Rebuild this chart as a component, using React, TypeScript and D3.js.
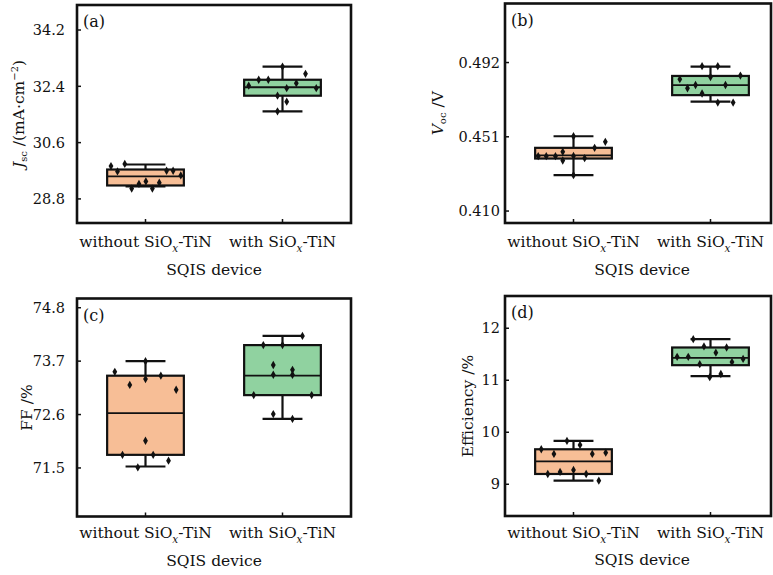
import React, { useEffect, useRef } from 'react';
import * as d3 from 'd3';

// categories on the x axis
const categories = ['without', 'with'];

// (a) Jsc, mA/cm2
const jscTicks = [28.8, 30.6, 32.4, 34.2];
const jscWithout = [29.85, 29.68, 29.92, 29.70, 29.70, 29.55, 29.13, 29.28, 29.36, 29.13, 29.32];
const jscWith = [32.42, 32.61, 32.61, 33.03, 32.80, 32.50, 32.34, 32.10, 31.91, 31.60, 32.34];
// [lower whisker, q1, median, q3, upper whisker]
const jscBoxes = [[29.20, 29.23, 29.52, 29.74, 29.90], [31.60, 32.10, 32.37, 32.61, 33.03]];
const jscJitter = [
  [-0.90, -0.73, -0.54, 0.55, 0.72, 0.92, -0.36, -0.17, 0.01, 0.18, 0.36],
  [-0.88, -0.62, -0.37, 0, 0.60, 0.36, 0.11, -0.13, 0.11, -0.13, 0.88],
];

// (b) Voc, V
const vocTicks = [0.410, 0.451, 0.492];
const vocWithout = [0.4403, 0.4403, 0.4403, 0.4427, 0.4379, 0.4404, 0.4513, 0.4298, 0.4392, 0.4449, 0.4482];
const vocWith = [0.4900, 0.4900, 0.4828, 0.4778, 0.4796, 0.4840, 0.4796, 0.4848, 0.4749, 0.4699, 0.4699];
const vocBoxes = [[0.4298, 0.4390, 0.4407, 0.4449, 0.4513], [0.4704, 0.4740, 0.4795, 0.4846, 0.4897]];
const vocJitter = [
  [-0.92, -0.71, -0.47, -0.28, -0.28, 0, 0, 0, 0.29, 0.55, 0.83],
  [-0.22, 0.19, -0.80, -0.60, -0.39, 0, 0.39, 0.78, -0.22, 0.19, 0.59],
];

// (c) FF, %
const ffTicks = [71.5, 72.6, 73.7, 74.8];
const ffWithout = [73.48, 73.21, 73.33, 73.40, 73.11, 72.06, 71.77, 71.77, 71.65, 71.51, 73.70];
const ffWith = [74.03, 74.03, 74.22, 73.62, 73.52, 73.42, 73.42, 73.00, 73.00, 72.61, 72.51];
const ffBoxes = [[71.53, 71.77, 72.63, 73.40, 73.70], [72.51, 73.00, 73.40, 74.03, 74.22]];
const ffJitter = [
  [-0.80, -0.41, 0, 0.40, 0.80, 0, -0.60, 0.20, 0.60, -0.20, 0],
  [-0.50, 0, 0.52, -0.24, 0.26, -0.24, 0.26, -0.75, 0.76, -0.24, 0.26],
];

// (d) efficiency, %
const effTicks = [9, 10, 11, 12];
const effWithout = [9.673, 9.583, 9.833, 9.756, 9.583, 9.608, 9.198, 9.237, 9.275, 9.198, 9.069];
const effWith = [11.79, 11.65, 11.63, 11.53, 11.45, 11.45, 11.31, 11.35, 11.41, 11.06, 11.12];
const effBoxes = [[9.069, 9.198, 9.442, 9.673, 9.833], [11.08, 11.29, 11.43, 11.63, 11.79]];
const effJitter = [
  [-0.84, -0.51, -0.17, 0.17, 0.49, 0.84, -0.67, -0.35, 0, 0.33, 0.66],
  [-0.45, -0.17, 0.42, 0.14, -0.87, -0.58, -0.28, 0.56, 0.85, -0.02, 0.27],
];

const FONT = '"DejaVu Serif", serif';
const fills = ['#F7BE96', '#90D2A0'];
const ink = '#111';

interface PanelSpec {
  tag: string;
  x0: number; x1: number; y0: number; y1: number;
  domain: [number, number];
  ticks: number[];
  fmt: string;
  tickGap: number;
  labelOff: number;
  titleOff: number;
  points: number[][];
  boxes: number[][];
  jitter: number[][];
  yLabel: (t: d3.Selection<SVGTextElement, unknown, null, undefined>) => void;
  yLabelX: number;
}

const App: React.FC = () => {
  const svgRef = useRef<SVGSVGElement>(null);

  useEffect(() => {
    if (!svgRef.current) return;
    const svg = d3.select(svgRef.current);
    svg.selectAll('*').remove();

    const panels: PanelSpec[] = [
      {
        tag: '(a)', x0: 77, x1: 351, y0: 5, y1: 223, domain: [28.03, 35.0], ticks: jscTicks, fmt: '.1f', tickGap: 12,
        labelOff: 24, titleOff: 52,
        points: [jscWithout, jscWith], boxes: jscBoxes, jitter: jscJitter, yLabelX: 24,
        yLabel: t => {
          t.append('tspan').attr('font-style', 'italic').text('J');
          t.append('tspan').attr('font-size', 10).attr('dy', 3).text('sc');
          t.append('tspan').attr('dy', -3).text(' /(mA·cm');
          t.append('tspan').attr('font-size', 10).attr('dy', -6).text('−2');
          t.append('tspan').attr('dy', 6).text(')');
        },
      },
      {
        tag: '(b)', x0: 505, x1: 771, y0: 3.5, y1: 223, domain: [0.4034, 0.5246], ticks: vocTicks, fmt: '.3f', tickGap: 5,
        labelOff: 24, titleOff: 52,
        points: [vocWithout, vocWith], boxes: vocBoxes, jitter: vocJitter, yLabelX: 443,
        yLabel: t => {
          t.append('tspan').attr('font-style', 'italic').text('V');
          t.append('tspan').attr('font-size', 10).attr('dy', 3).text('oc');
          t.append('tspan').attr('dy', -3).text(' /V');
        },
      },
      {
        tag: '(c)', x0: 77, x1: 351, y0: 298.5, y1: 516.5, domain: [70.5, 74.99], ticks: ffTicks, fmt: '.1f', tickGap: 12,
        labelOff: 21.5, titleOff: 49,
        points: [ffWithout, ffWith], boxes: ffBoxes, jitter: ffJitter, yLabelX: 32,
        yLabel: t => { t.text('FF /%'); },
      },
      {
        tag: '(d)', x0: 505, x1: 771, y0: 296, y1: 516, domain: [8.39, 12.62], ticks: effTicks, fmt: 'd', tickGap: 5,
        labelOff: 21.5, titleOff: 49,
        points: [effWithout, effWith], boxes: effBoxes, jitter: effJitter, yLabelX: 473,
        yLabel: t => { t.text('Efficiency /%'); },
      },
    ];

    panels.forEach(p => {
      const g = svg.append('g');
      // nominal plot width 274, frame on the right may be clipped by the page
      const x = d3.scalePoint<string>().domain(categories).range([p.x0, p.x0 + 274]).padding(0.5);
      const y = d3.scaleLinear().domain(p.domain).range([p.y1, p.y0]);
      const boxW = x.step() * 0.56;
      const capW = boxW * 0.52;

      // boxes
      p.boxes.forEach((b, i) => {
        const cx = x(categories[i]) as number;
        const [lo, q1, med, q3, hi] = b;
        g.append('line').attr('x1', cx).attr('x2', cx).attr('y1', y(hi)).attr('y2', y(q3))
          .attr('stroke', ink).attr('stroke-width', 2.2);
        g.append('line').attr('x1', cx).attr('x2', cx).attr('y1', y(q1)).attr('y2', y(lo))
          .attr('stroke', ink).attr('stroke-width', 2.2);
        [lo, hi].forEach(v => {
          g.append('line').attr('x1', cx - capW / 2).attr('x2', cx + capW / 2).attr('y1', y(v)).attr('y2', y(v))
            .attr('stroke', ink).attr('stroke-width', 2.2);
        });
        g.append('rect').attr('x', cx - boxW / 2).attr('y', y(q3)).attr('width', boxW).attr('height', y(q1) - y(q3))
          .attr('fill', fills[i]).attr('stroke', ink).attr('stroke-width', 2.2);
        g.append('line').attr('x1', cx - boxW / 2).attr('x2', cx + boxW / 2).attr('y1', y(med)).attr('y2', y(med))
          .attr('stroke', ink).attr('stroke-width', 1.8);
      });

      // data points
      const diamond = d3.symbol().type(d3.symbolDiamond).size(20);
      p.points.forEach((vals, i) => {
        const cx = x(categories[i]) as number;
        vals.forEach((v, k) => {
          g.append('path').attr('d', diamond() as string)
            .attr('transform', `translate(${cx + p.jitter[i][k] * boxW / 2},${y(v)})`)
            .attr('fill', ink);
        });
      });

      // frame
      g.append('rect').attr('x', p.x0).attr('y', p.y0).attr('width', p.x1 - p.x0).attr('height', p.y1 - p.y0)
        .attr('fill', 'none').attr('stroke', ink).attr('stroke-width', 2.6);

      // y ticks
      p.ticks.forEach(t => {
        g.append('line').attr('x1', p.x0).attr('x2', p.x0 + 4).attr('y1', y(t)).attr('y2', y(t))
          .attr('stroke', ink).attr('stroke-width', 1.5);
        g.append('text').attr('x', p.x0 - p.tickGap).attr('y', y(t)).attr('dy', '0.36em')
          .attr('text-anchor', 'end').attr('font-family', FONT).attr('font-size', 14.5).attr('fill', ink)
          .text(d3.format(p.fmt)(t));
      });

      // x ticks and category labels
      categories.forEach(c => {
        const cx = x(c) as number;
        g.append('line').attr('x1', cx).attr('x2', cx).attr('y1', p.y1).attr('y2', p.y1 - 4)
          .attr('stroke', ink).attr('stroke-width', 1.5);
        const t = g.append('text').attr('x', cx).attr('y', p.y1 + p.labelOff).attr('text-anchor', 'middle')
          .attr('font-family', FONT).attr('font-size', 15.5).attr('fill', ink);
        t.append('tspan').text(c === 'without' ? 'without SiO' : 'with SiO');
        t.append('tspan').attr('font-style', 'italic').attr('font-size', 10.5).attr('dy', 5).text('x');
        t.append('tspan').attr('dy', -5).text('-TiN');
      });

      // x title
      g.append('text').attr('x', (p.x0 + p.x0 + 274) / 2).attr('y', p.y1 + p.titleOff).attr('text-anchor', 'middle')
        .attr('font-family', FONT).attr('font-size', 15.5).attr('fill', ink).text('SQIS device');

      // y title
      const cy = (p.y0 + p.y1) / 2;
      const yl = g.append('text').attr('transform', `translate(${p.yLabelX},${cy}) rotate(-90)`)
        .attr('text-anchor', 'middle').attr('font-family', FONT).attr('font-size', 15.5).attr('fill', ink);
      p.yLabel(yl);

      // panel tag
      g.append('text').attr('x', p.x0 + 6).attr('y', p.y0 + 22).attr('font-family', FONT)
        .attr('font-size', 16).attr('fill', ink).text(p.tag);
    });
  }, []);

  return (
    <svg ref={svgRef} width={773} height={575}
      style={{ position: 'absolute', left: 0, top: 0, background: '#fff' }} />
  );
};

export default App;
